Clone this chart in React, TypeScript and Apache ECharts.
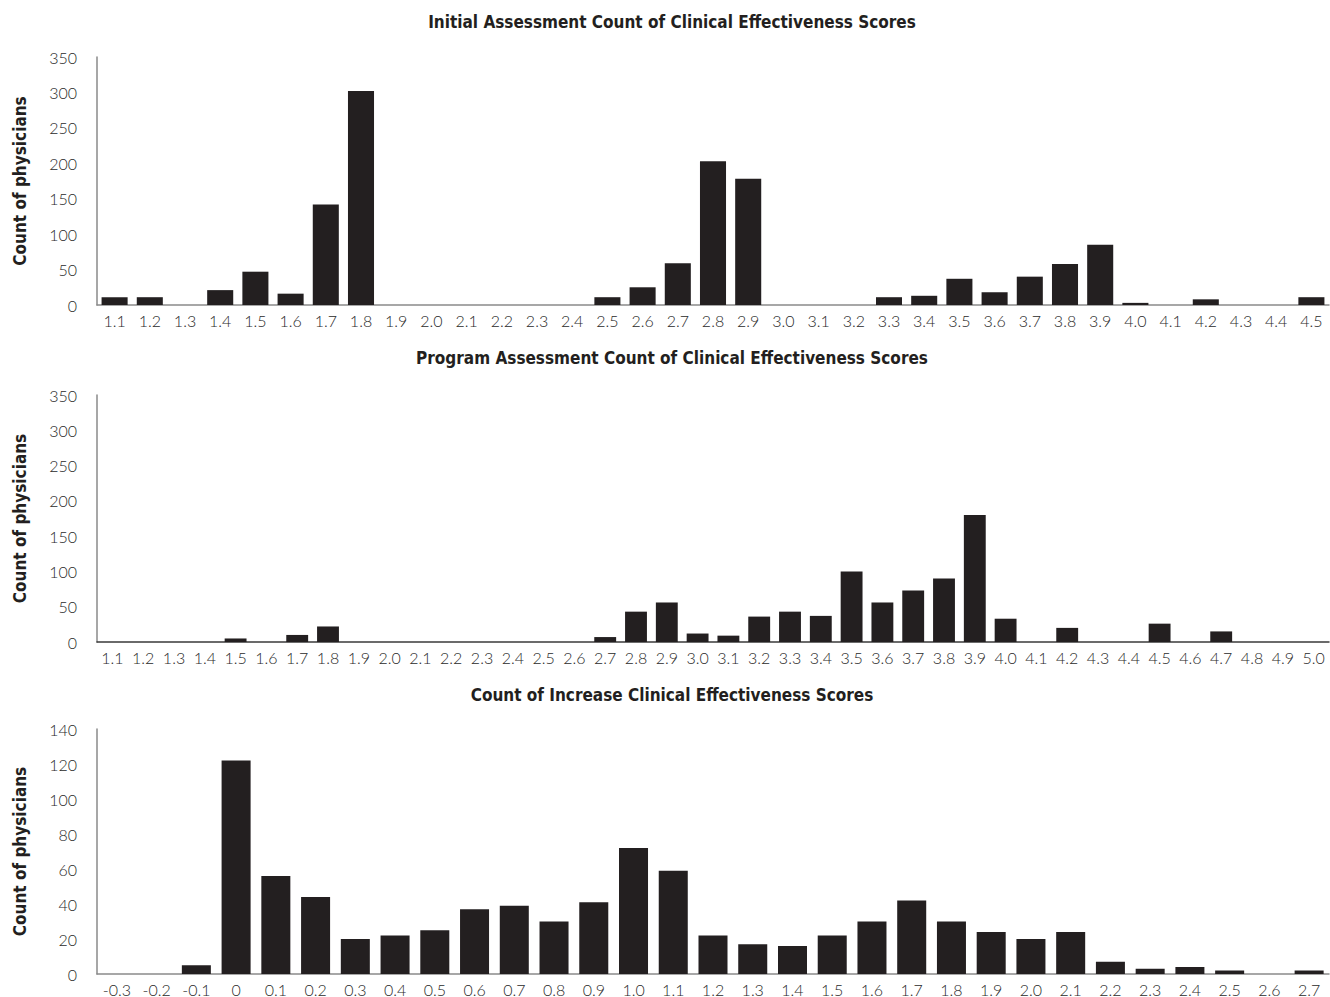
import React, { useEffect, useRef } from "react";
import * as echarts from "echarts";

const initialCats = ["1.1","1.2","1.3","1.4","1.5","1.6","1.7","1.8","1.9","2.0","2.1","2.2","2.3","2.4","2.5","2.6","2.7","2.8","2.9","3.0","3.1","3.2","3.3","3.4","3.5","3.6","3.7","3.8","3.9","4.0","4.1","4.2","4.3","4.4","4.5"];
const initialCounts = [11,11,0,21,47,16,142,302,0,0,0,0,0,0,11,25,59,203,178,0,0,0,11,13,37,18,40,58,85,3,0,8,0,0,11];

const programCats = ["1.1","1.2","1.3","1.4","1.5","1.6","1.7","1.8","1.9","2.0","2.1","2.2","2.3","2.4","2.5","2.6","2.7","2.8","2.9","3.0","3.1","3.2","3.3","3.4","3.5","3.6","3.7","3.8","3.9","4.0","4.1","4.2","4.3","4.4","4.5","4.6","4.7","4.8","4.9","5.0"];
const programCounts = [0,0,0,0,5,0,10,22,0,0,0,0,0,0,0,0,7,43,56,12,9,36,43,37,100,56,73,90,180,33,0,20,0,0,26,0,15,0,0,0];

const increaseCats = ["-0.3","-0.2","-0.1","0","0.1","0.2","0.3","0.4","0.5","0.6","0.7","0.8","0.9","1.0","1.1","1.2","1.3","1.4","1.5","1.6","1.7","1.8","1.9","2.0","2.1","2.2","2.3","2.4","2.5","2.6","2.7"];
const increaseCounts = [0,0,5,122,56,44,20,22,25,37,39,30,41,72,59,22,17,16,22,30,42,30,24,20,24,7,3,4,2,0,2];

const titles = [
  "Initial Assessment Count of Clinical Effectiveness Scores",
  "Program Assessment Count of Clinical Effectiveness Scores",
  "Count of Increase Clinical Effectiveness Scores",
];
const yName = "Count of physicians";

const BAR = "#231f20";
const AXIS = "#8a8a8a";
const BOLD_FONT = "'Liberation Sans Narrow', 'DejaVu Sans Condensed', Roboto, sans-serif";
const TICK_FONT = "Lato, 'Open Sans', sans-serif";

export default function App() {
  const ref = useRef<HTMLDivElement>(null);
  useEffect(() => {
    document.body.style.margin = "0";
    const chart = echarts.init(ref.current!, null, { renderer: "svg" });
    const grids = [
      { left: 97, width: 1232, top: 57, height: 248 },
      { left: 97, width: 1232, top: 395, height: 247 },
      { left: 97, width: 1232, top: 729, height: 246 },
    ];
    const cats = [initialCats, programCats, increaseCats];
    const vals = [initialCounts, programCounts, increaseCounts];
    const maxes = [350, 350, 140];
    const intervals = [50, 50, 20];
    const gaps = ["26%", "29%", "27%"];
    const xAxisColors = [AXIS, "#3a3a3a", AXIS];
    const titleY = [22, 358, 695];

    chart.setOption({
      animation: false,
      backgroundColor: "#ffffff",
      grid: grids.map((g) => ({ ...g, containLabel: false })),
      graphic: titles.map((t, i) => ({
        type: "text",
        x: 672,
        y: titleY[i],
        style: {
          text: t,
          fill: "#231f20",
          font: `bold 17px ${BOLD_FONT}`,
          textAlign: "center",
          textVerticalAlign: "middle",
        },
      })),
      xAxis: cats.map((c, i) => ({
        type: "category",
        gridIndex: i,
        data: c,
        axisLine: { show: true, lineStyle: { color: xAxisColors[i], width: 1.5 } },
        axisTick: { show: false },
        axisLabel: {
          interval: 0,
          color: "#2a2a2a",
          fontFamily: TICK_FONT,
          fontWeight: 300,
          fontSize: 16,
          margin: 7,
        },
        splitLine: { show: false },
      })),
      yAxis: maxes.map((m, i) => ({
        type: "value",
        gridIndex: i,
        min: 0,
        max: m,
        interval: intervals[i],
        name: yName,
        nameLocation: "middle",
        nameGap: 69,
        nameRotate: 90,
        nameTextStyle: {
          fontFamily: BOLD_FONT,
          fontWeight: "bold",
          fontSize: 17,
          color: "#231f20",
        },
        axisLine: { show: true, lineStyle: { color: AXIS, width: 1.5 } },
        axisTick: { show: false },
        axisLabel: {
          color: "#2a2a2a",
          fontFamily: TICK_FONT,
          fontWeight: 300,
          fontSize: 16,
          margin: 20,
        },
        splitLine: { show: false },
      })),
      series: vals.map((v, i) => ({
        type: "bar",
        xAxisIndex: i,
        yAxisIndex: i,
        data: v,
        barCategoryGap: gaps[i],
        itemStyle: { color: BAR },
      })),
    });
    return () => chart.dispose();
  }, []);
  return <div ref={ref} style={{ width: 1330, height: 997 }} />;
}
